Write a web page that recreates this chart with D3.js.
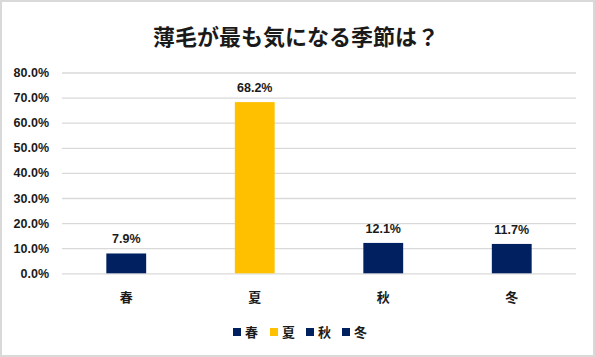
<!DOCTYPE html>
<html><head><meta charset="utf-8">
<script src="https://cdn.jsdelivr.net/npm/d3@7"></script>
<style>body{margin:0;background:#fff}svg{display:block}</style>
</head><body>
<script>
const title = "薄毛が最も気になる季節は？";
const categories = ["春","夏","秋","冬"];
const values = [7.9, 68.2, 12.1, 11.7];
const colors = ["#002060","#FFC000","#002060","#002060"];
const yTicks = [0,10,20,30,40,50,60,70,80];

(function(){
const W=595,H=357;
const svg=d3.select("body").append("svg").attr("width",W).attr("height",H);
svg.append("rect").attr("x",1).attr("y",1).attr("width",W-2).attr("height",H-2)
  .attr("fill","#fff").attr("stroke","#d9d9d9").attr("stroke-width",2);

const pl=62,pr=576,pt=72.5,pb=273.3;
const x=d3.scaleBand().domain(categories).range([pl,pr]).paddingInner(0.69).paddingOuter(0.345);
const y=d3.scaleLinear().domain([0,80]).range([pb,pt]);
const font="'Noto Sans CJK JP','Liberation Sans',sans-serif";
const nfont="'Liberation Sans',Arial,sans-serif";

svg.append("text").attr("x",296).attr("y",45).attr("text-anchor","middle")
  .attr("font-family",font).attr("font-size",22).attr("font-weight",700).attr("fill","#1a1a1a").text(title);

const yAxis=d3.axisLeft(y).tickValues(yTicks).tickFormat(d=>d.toFixed(1)+"%").tickSize(-(pr-pl)).tickPadding(13);
const ga=svg.append("g").attr("transform",`translate(${pl},0)`).call(yAxis);
ga.select(".domain").remove();
ga.selectAll(".tick line").attr("stroke","#d9d9d9").attr("stroke-width",1.3);
ga.selectAll(".tick text").attr("font-family",nfont).attr("font-size",12.5).attr("font-weight",700).attr("fill","#1a1a1a");

svg.selectAll("rect.bar").data(values).enter().append("rect").attr("class","bar")
  .attr("x",(d,i)=>x(categories[i])).attr("width",x.bandwidth())
  .attr("y",d=>y(d)).attr("height",d=>y(0)-y(d)).attr("fill",(d,i)=>colors[i]);

svg.selectAll("text.lbl").data(values).enter().append("text").attr("class","lbl")
  .attr("x",(d,i)=>x(categories[i])+x.bandwidth()/2).attr("y",d=>y(d)-10)
  .attr("text-anchor","middle").attr("font-family",nfont)
  .attr("font-size",12.5).attr("font-weight",700).attr("fill","#1a1a1a").text(d=>d.toFixed(1)+"%");

const xAxis=d3.axisBottom(x).tickSize(0).tickPadding(0);
const gx=svg.append("g").attr("transform",`translate(0,${pb})`).call(xAxis);
gx.select(".domain").remove();
gx.selectAll(".tick text").attr("dy",null).attr("y",29).attr("font-family",font).attr("font-size",13).attr("font-weight",700).attr("fill","#1a1a1a");

const lx=[233,270,306,342];
const lg=svg.append("g");
categories.forEach((c,i)=>{
  lg.append("rect").attr("x",lx[i]).attr("y",328).attr("width",8).attr("height",8).attr("fill",colors[i]);
  lg.append("text").attr("x",lx[i]+12).attr("y",337).attr("font-family",font).attr("font-size",13).attr("font-weight",700).attr("fill","#1a1a1a").text(c);
});
})();
</script>
</body></html>
